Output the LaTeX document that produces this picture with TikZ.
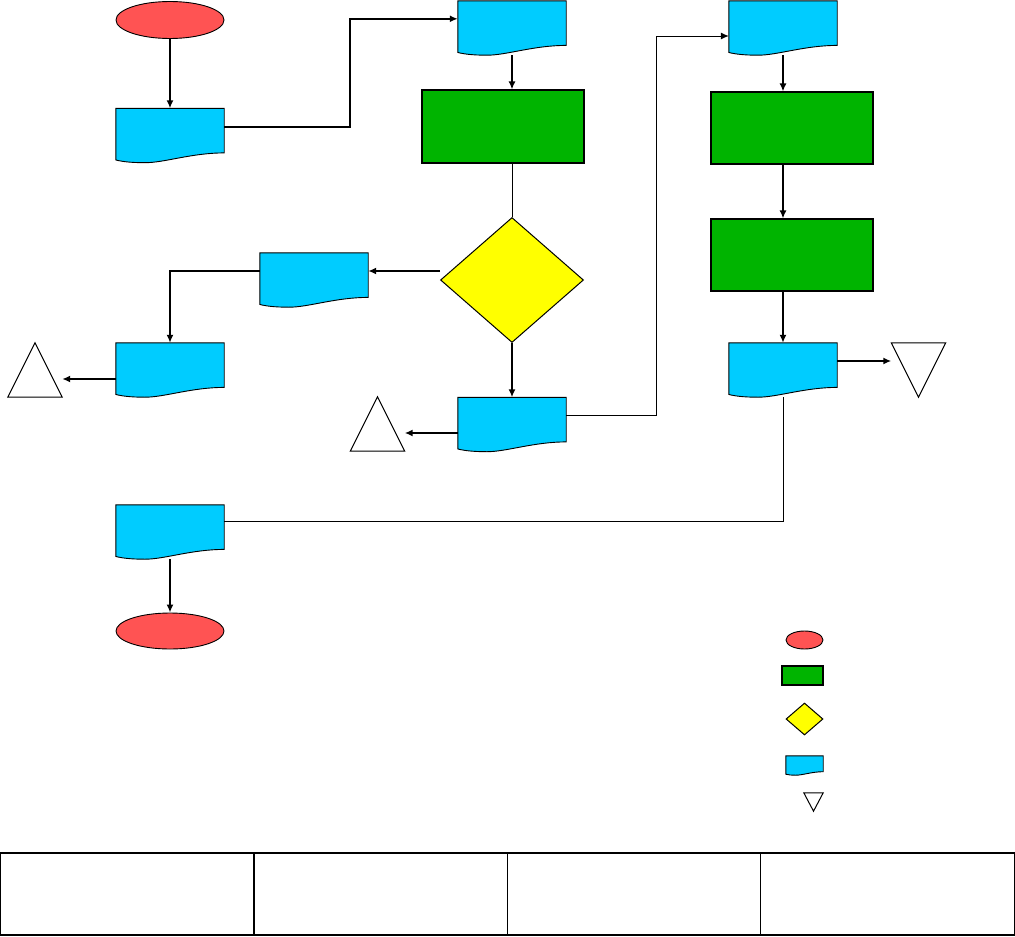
\documentclass[tikz,border=0pt]{standalone}
\usepackage{tikz}
\usetikzlibrary{arrows.meta,positioning,shapes.geometric,calc}
\definecolor{termred}{HTML}{FF5353}
\definecolor{docblue}{HTML}{00CCFF}
\definecolor{procgreen}{HTML}{00B400}
\definecolor{decyellow}{HTML}{FFFF00}

\begin{document}
\begin{tikzpicture}[
  x=1pt, y=-1pt,
  term/.style={ellipse, draw, fill=termred, line width=0.9pt, inner sep=0pt, minimum width=108pt, minimum height=37pt},
  doc/.style={rectangle, inner sep=0pt, minimum width=108pt, minimum height=54pt},
  proc/.style={rectangle, draw, fill=procgreen, line width=1.1pt, inner sep=0pt, minimum width=162pt, minimum height=72pt},
  dec/.style={diamond, draw, fill=decyellow, line width=1pt, inner sep=0pt, minimum width=143pt, minimum height=125pt},
  tri/.style={rectangle, inner sep=0pt, minimum width=54pt, minimum height=54pt},
  docline/.style={draw, fill=docblue, line width=0.9pt},
  triline/.style={draw, fill=white, line width=1pt},
  cell/.style={rectangle, draw, line width=1.2pt, inner sep=0pt, minimum width=253.5pt, minimum height=82pt},
  arr/.style={-{Latex[length=8pt,width=7pt]}, line width=1.7pt},
  link/.style={line width=1pt}
]
\useasboundingbox (0,0) rectangle (1015,937);
% main flow
\node[term] (start) at (170,20) {};
\node[doc] (d1) at (170,135.5) {};
\node[doc] (d2) at (512,28) {};
\node[proc, minimum height=73pt] (g1) at (503,126.5) {};
\node[dec] (dia) at (512,280) {};
\node[doc] (d3) at (314,280) {};
\node[doc] (d4) at (170,370) {};
\node[tri] (t1) at (35,370) {};
\node[doc] (d5) at (512,424.5) {};
\node[tri] (t2) at (377.5,424) {};
\node[doc] (d6) at (783,28) {};
\node[proc] (g2) at (792,128) {};
\node[proc] (g3) at (792,255) {};
\node[doc] (d7) at (783,370) {};
\node[tri] (t3) at (918.5,370) {};
\node[doc] (d8) at (170,532) {};
\node[term, minimum height=36pt] (end) at (170,631) {};
% legend
\node[term, minimum width=37pt, minimum height=18pt] (lterm) at (804.5,640) {};
\node[proc, minimum width=41pt, minimum height=19pt] (lproc) at (802.5,675.5) {};
\node[dec, minimum width=37pt, minimum height=32pt] (ldec) at (804.5,719) {};
\node[doc, minimum width=37pt, minimum height=19pt] (ldoc) at (804.5,765.5) {};
\node[tri, minimum width=19pt, minimum height=18pt] (ltri) at (813.5,802) {};
% table
\node[cell] (c1) at (127.5,894) {};
\node[cell] (c2) at (380.5,894) {};
\node[cell] (c3) at (634,894) {};
\node[cell] (c4) at (887.5,894) {};

% document outlines
\foreach \d in {d1,d2,d3,d4,d5,d6,d7,d8,ldoc}
  \draw[docline] let \p1=(\d.south west), \p2=(\d.north east) in
    (\x1,\y2) -- (\x2,\y2) -- (\x2,{\y1+0.18*(\y2-\y1)})
    .. controls ({\x1+0.7*(\x2-\x1)},{\y1+0.18*(\y2-\y1)}) and ({\x1+0.45*(\x2-\x1)},\y1) .. ({\x1+0.27*(\x2-\x1)},\y1)
    .. controls ({\x1+0.14*(\x2-\x1)},\y1) and ({\x1+0.06*(\x2-\x1)},{\y1+0.02*(\y2-\y1)}) .. (\x1,{\y1+0.05*(\y2-\y1)}) -- cycle;
% triangles
\foreach \t in {t1,t2}
  \draw[triline] (\t.south west) -- (\t.south east) -- (\t.north) -- cycle;
\foreach \t in {t3,ltri}
  \draw[triline] (\t.north west) -- (\t.north east) -- (\t.south) -- cycle;

% connectors
\draw[arr] (start) -- (d1);
\draw[arr] ([yshift=-19pt]d1.north east) -- ++(126,0) |- ([yshift=-18pt]d2.north west);
\draw[arr] (d2) -- (d2.south |- g1.north);
\draw[link] (dia.north |- g1.south) -- (dia.north);
\draw[arr] ([yshift=9pt]dia.west) -- ([yshift=9pt]dia.west -| d3.east);
\draw[arr] ([yshift=9pt]d3.west) -| (d4.north);
\draw[arr] ([yshift=-9pt]d4.west) -- ([yshift=-9pt]d4.west -| t1.east);
\draw[arr] (dia) -- (d5);
\draw[arr] ([yshift=-8.5pt]d5.west) -- ([yshift=-8.5pt]d5.west -| t2.east);
\draw[arr, line width=1pt] ([yshift=9.5pt]d5.east) -- ++(90,0) |- ([yshift=-8pt]d6.west);
\draw[arr] (d6) -- (d6.south |- g2.north);
\draw[arr] (d6.south |- g2.south) -- (d6.south |- g3.north);
\draw[arr] (d7.north |- g3.south) -- (d7);
\draw[arr] ([yshift=9pt]d7.east) -- ([yshift=9pt]d7.east -| t3.west);
\draw[link] (d7) |- ([yshift=-17pt]d8.north east);
\draw[arr] (d8) -- (end);
\end{tikzpicture}
\end{document}
